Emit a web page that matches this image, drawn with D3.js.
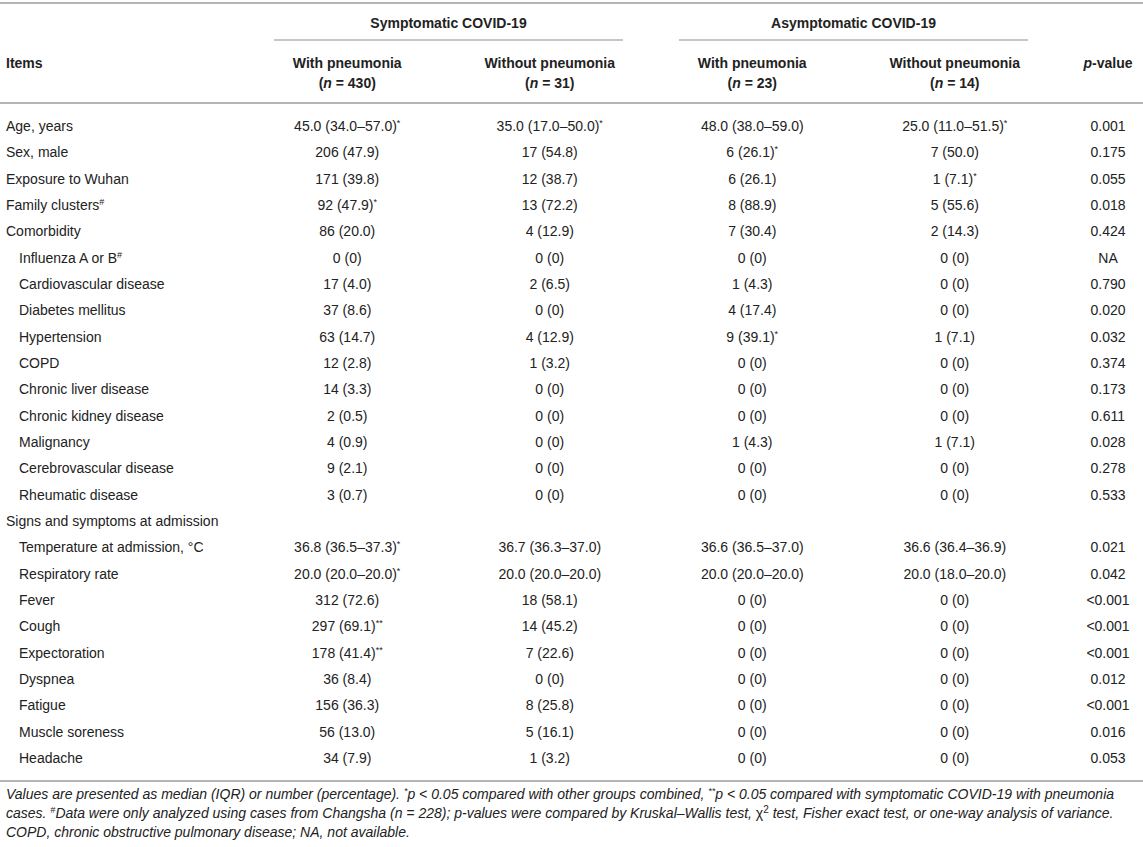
<!DOCTYPE html>
<html>
<head>
<meta charset="utf-8">
<script src="https://cdn.jsdelivr.net/npm/d3@7"></script>
<style>
  body { margin: 0; background: #fff; }
  svg { display: block; font-family: "Liberation Sans", Arial, sans-serif; }
</style>
</head>
<body>
<script>
const svgW = 1143;
const svgH = 847;

// rows of the table
const items = [
  'Age, years', 'Sex, male', 'Exposure to Wuhan', 'Family clusters#', 'Comorbidity',
  'Influenza A or B#', 'Cardiovascular disease', 'Diabetes mellitus', 'Hypertension', 'COPD',
  'Chronic liver disease', 'Chronic kidney disease', 'Malignancy', 'Cerebrovascular disease',
  'Rheumatic disease', 'Signs and symptoms at admission', 'Temperature at admission, \u00b0C',
  'Respiratory rate', 'Fever', 'Cough', 'Expectoration', 'Dyspnea', 'Fatigue',
  'Muscle soreness', 'Headache'
];
// sub rows (indented)
const subItems = [
  'Influenza A or B#', 'Cardiovascular disease', 'Diabetes mellitus', 'Hypertension', 'COPD',
  'Chronic liver disease', 'Chronic kidney disease', 'Malignancy', 'Cerebrovascular disease',
  'Rheumatic disease', 'Temperature at admission, \u00b0C', 'Respiratory rate', 'Fever', 'Cough',
  'Expectoration', 'Dyspnea', 'Fatigue', 'Muscle soreness', 'Headache'
];

const groups = ['Symptomatic COVID-19', 'Asymptomatic COVID-19'];
const columns = ['symWith', 'symWithout', 'asymWith', 'asymWithout'];
const colTitles = ['With pneumonia', 'Without pneumonia', 'With pneumonia', 'Without pneumonia'];
const colN = [430, 31, 23, 14];

const symWith = [
  '45.0 (34.0\u201357.0)*', '206 (47.9)', '171 (39.8)', '92 (47.9)*', '86 (20.0)',
  '0 (0)', '17 (4.0)', '37 (8.6)', '63 (14.7)', '12 (2.8)', '14 (3.3)', '2 (0.5)', '4 (0.9)',
  '9 (2.1)', '3 (0.7)', '', '36.8 (36.5\u201337.3)*', '20.0 (20.0\u201320.0)*', '312 (72.6)',
  '297 (69.1)**', '178 (41.4)**', '36 (8.4)', '156 (36.3)', '56 (13.0)', '34 (7.9)'
];
const symWithout = [
  '35.0 (17.0\u201350.0)*', '17 (54.8)', '12 (38.7)', '13 (72.2)', '4 (12.9)',
  '0 (0)', '2 (6.5)', '0 (0)', '4 (12.9)', '1 (3.2)', '0 (0)', '0 (0)', '0 (0)',
  '0 (0)', '0 (0)', '', '36.7 (36.3\u201337.0)', '20.0 (20.0\u201320.0)', '18 (58.1)',
  '14 (45.2)', '7 (22.6)', '0 (0)', '8 (25.8)', '5 (16.1)', '1 (3.2)'
];
const asymWith = [
  '48.0 (38.0\u201359.0)', '6 (26.1)*', '6 (26.1)', '8 (88.9)', '7 (30.4)',
  '0 (0)', '1 (4.3)', '4 (17.4)', '9 (39.1)*', '0 (0)', '0 (0)', '0 (0)', '1 (4.3)',
  '0 (0)', '0 (0)', '', '36.6 (36.5\u201337.0)', '20.0 (20.0\u201320.0)', '0 (0)',
  '0 (0)', '0 (0)', '0 (0)', '0 (0)', '0 (0)', '0 (0)'
];
const asymWithout = [
  '25.0 (11.0\u201351.5)*', '7 (50.0)', '1 (7.1)*', '5 (55.6)', '2 (14.3)',
  '0 (0)', '0 (0)', '0 (0)', '1 (7.1)', '0 (0)', '0 (0)', '0 (0)', '1 (7.1)',
  '0 (0)', '0 (0)', '', '36.6 (36.4\u201336.9)', '20.0 (18.0\u201320.0)', '0 (0)',
  '0 (0)', '0 (0)', '0 (0)', '0 (0)', '0 (0)', '0 (0)'
];
const pValues = [
  '0.001', '0.175', '0.055', '0.018', '0.424', 'NA', '0.790', '0.020', '0.032', '0.374',
  '0.173', '0.611', '0.028', '0.278', '0.533', '', '0.021', '0.042', '<0.001', '<0.001',
  '<0.001', '0.012', '<0.001', '0.016', '0.053'
];

const series = { symWith, symWithout, asymWith, asymWithout };

const textColor = '#222';
const ruleColor = '#b4b4b4';
const fontSize = 14;

const svg = d3.select('body')
  .append('svg')
  .attr('width', svgW)
  .attr('height', svgH);

// scales
const x = d3.scaleBand().domain(columns).range([246, 1056]);
const xP = 1108;
const y = d3.scalePoint().domain(items).range([131, 763]);

// split trailing * or # into superscript
function addText(sel, str) {
  const m = str.match(/^(.*?)([*#]+)$/);
  if (m) {
    sel.append('tspan').text(m[1]);
    sel.append('tspan').attr('baseline-shift', 'super').attr('font-size', 9).text(m[2]);
  } else {
    sel.text(str);
  }
}

// rules
function rule(x1, x2, yy, w) {
  svg.append('line')
    .attr('x1', x1).attr('x2', x2).attr('y1', yy).attr('y2', yy)
    .attr('stroke', ruleColor).attr('stroke-width', w);
}
rule(0, svgW, 3, 2);
rule(x('symWith') + 28, x('symWithout') + x.bandwidth() - 28, 40, 1.5);
rule(x('asymWith') + 28, x('asymWithout') + x.bandwidth() - 28, 40, 1.5);
rule(0, svgW, 103, 2);
rule(0, svgW, 781, 2);

// group headers
groups.forEach((gname, i) => {
  const c0 = x(columns[i * 2]);
  const c1 = x(columns[i * 2 + 1]) + x.bandwidth();
  svg.append('text')
    .attr('x', (c0 + c1) / 2).attr('y', 28)
    .attr('text-anchor', 'middle')
    .attr('font-size', fontSize).attr('font-weight', 'bold').attr('fill', textColor)
    .text(gname);
});

// column headers
const hdr = svg.append('g')
  .attr('font-size', fontSize).attr('font-weight', 'bold').attr('fill', textColor)
  .attr('text-anchor', 'middle');
columns.forEach((c, i) => {
  const cx = x(c) + x.bandwidth() / 2;
  hdr.append('text').attr('x', cx).attr('y', 68).text(colTitles[i]);
  const t = hdr.append('text').attr('x', cx).attr('y', 88);
  t.append('tspan').text('(');
  t.append('tspan').attr('font-style', 'italic').text('n');
  t.append('tspan').text(' = ' + colN[i] + ')');
});
hdr.append('text').attr('x', 6).attr('y', 68).attr('text-anchor', 'start').text('Items');
const pv = hdr.append('text').attr('x', xP).attr('y', 68);
pv.append('tspan').attr('font-style', 'italic').text('p');
pv.append('tspan').text('-value');

// body rows
const body = svg.append('g').attr('font-size', fontSize).attr('fill', textColor);

body.selectAll('text.item')
  .data(items)
  .enter()
  .append('text')
  .attr('class', 'item')
  .attr('x', d => subItems.includes(d) ? 19 : 6)
  .attr('y', d => y(d))
  .each(function(d) { addText(d3.select(this), d); });

columns.forEach(c => {
  const cx = x(c) + x.bandwidth() / 2;
  body.selectAll('text.' + c)
    .data(series[c])
    .enter()
    .append('text')
    .attr('class', c)
    .attr('x', cx)
    .attr('y', (d, i) => y(items[i]))
    .attr('text-anchor', 'middle')
    .each(function(d) { addText(d3.select(this), d); });
});

body.selectAll('text.pval')
  .data(pValues)
  .enter()
  .append('text')
  .attr('class', 'pval')
  .attr('x', xP)
  .attr('y', (d, i) => y(items[i]))
  .attr('text-anchor', 'middle')
  .text(d => d);

// footnote
const foot = svg.append('g')
  .attr('font-size', fontSize).attr('font-style', 'italic').attr('fill', textColor);

const f1 = foot.append('text').attr('x', 6).attr('y', 799);
f1.append('tspan').text('Values are presented as median (IQR) or number (percentage). ');
f1.append('tspan').attr('baseline-shift', 'super').attr('font-size', 9).text('*');
f1.append('tspan').text('p < 0.05 compared with other groups combined, ');
f1.append('tspan').attr('baseline-shift', 'super').attr('font-size', 9).text('**');
f1.append('tspan').text('p < 0.05 compared with symptomatic COVID-19 with pneumonia');

const f2 = foot.append('text').attr('x', 6).attr('y', 818);
f2.append('tspan').text('cases. ');
f2.append('tspan').attr('baseline-shift', 'super').attr('font-size', 9).text('#');
f2.append('tspan').text('Data were only analyzed using cases from Changsha (n = 228); p-values were compared by Kruskal\u2013Wallis test, ');
f2.append('tspan').attr('font-style', 'normal').text('\u03c7');
f2.append('tspan').attr('baseline-shift', 'super').attr('font-size', 10).attr('font-style', 'normal').text('2');
f2.append('tspan').text(' test, Fisher exact test, or one-way analysis of variance.');

foot.append('text').attr('x', 6).attr('y', 837)
  .text('COPD, chronic obstructive pulmonary disease; NA, not available.');
</script>
</body>
</html>
